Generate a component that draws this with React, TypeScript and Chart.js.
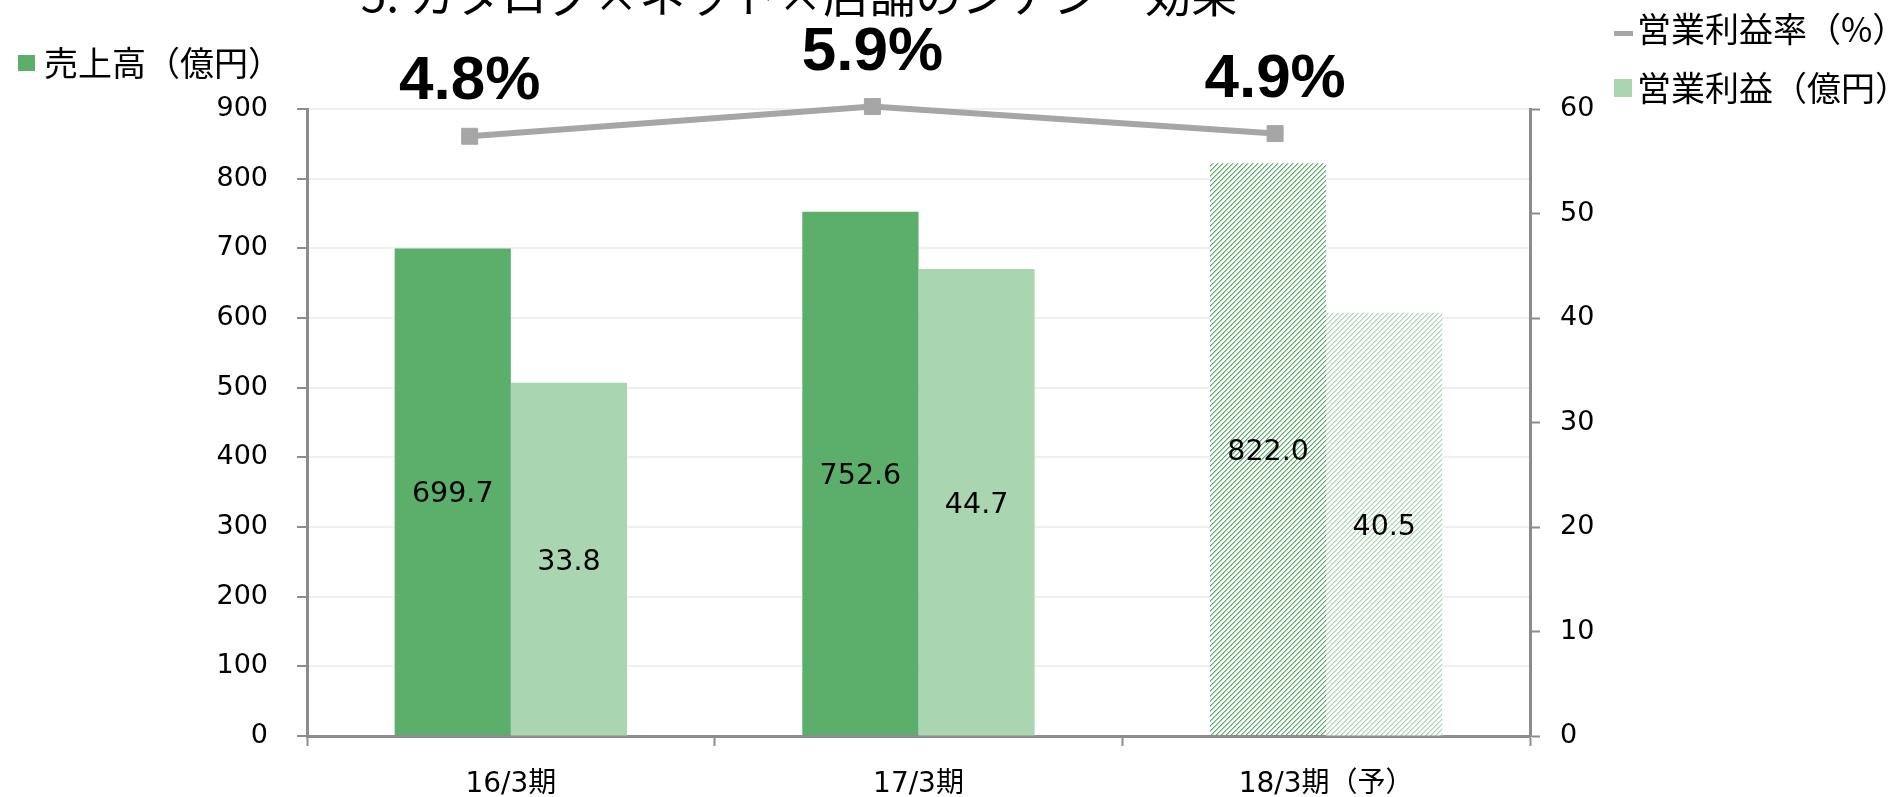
import React, { useEffect, useRef } from 'react';
import { Chart, registerables } from 'chart.js';

Chart.register(...registerables);

// ---- data ----
const categories = ['16/3期', '17/3期', '18/3期（予）'];
const salesValues = [699.7, 752.6, 822.0];
const profitValues = [33.8, 44.7, 40.5];
const marginRates = [4.8, 5.9, 4.9];
const forecastFlags = [false, false, true];
const salesAxisRange = [0, 900, 100];
const profitAxisRange = [0, 60, 10];

const titleText = '5. カタログ×ネット×店舗のシナジー効果';
const salesLabel = '売上高（億円）';
const profitLabel = '営業利益（億円）';
const rateLabel = '営業利益率（%）';

// ---- styles ----
const SALES_COLOR = '#5BAF6A';
const PROFIT_COLOR = '#A9D6B0';
const RATE_COLOR = '#A6A6A6';
const AXIS_COLOR = '#8C8C8C';
const GRID_COLOR = '#EFEFEF';
const FONT = '"DejaVu Sans", "Noto Sans CJK JP", sans-serif';
const JP_FONT = '"Noto Sans CJK JP", sans-serif';
const W = 1899;
const H = 797;
const PAD = { left: 307, right: 369, top: 109, bottom: 61 };

function hexToRgb(hex: string): number[] {
  const v = parseInt(hex.slice(1), 16);
  return [(v >> 16) & 255, (v >> 8) & 255, v & 255];
}

function makeHatch(color: string): CanvasPattern | string {
  const n = 5;
  const tile = document.createElement('canvas');
  tile.width = n;
  tile.height = n;
  const c = tile.getContext('2d');
  if (!c) return color;
  const [r, g, b] = hexToRgb(color);
  const mix = (t: number) =>
    `rgb(${Math.round(255 + (r - 255) * t)},${Math.round(255 + (g - 255) * t)},${Math.round(255 + (b - 255) * t)})`;
  c.fillStyle = '#ffffff';
  c.fillRect(0, 0, n, n);
  for (let x = 0; x < n; x++) {
    for (let y = 0; y < n; y++) {
      const k = (x + y) % n;
      if (k === 0) {
        c.fillStyle = mix(1);
        c.fillRect(x, y, 1, 1);
      } else if (k === 1) {
        c.fillStyle = mix(0.55);
        c.fillRect(x, y, 1, 1);
      }
    }
  }
  const p = c.createPattern(tile, 'repeat');
  return p || color;
}

const barLabelPlugin = {
  id: 'barLabels',
  afterDatasetsDraw(chart: any) {
    const ctx = chart.ctx;
    ctx.save();
    ctx.fillStyle = '#000';
    ctx.textAlign = 'center';
    ctx.font = `28.5px ${FONT}`;
    ctx.textBaseline = 'middle';
    [0, 1].forEach((di) => {
      const meta = chart.getDatasetMeta(di);
      meta.data.forEach((el: any, i: number) => {
        const v = chart.data.datasets[di].data[i] as number;
        ctx.fillText(v.toFixed(1), el.x, (el.y + el.base) / 2 + 3);
      });
    });
    ctx.restore();
  },
  afterDraw(chart: any) {
    const ctx = chart.ctx;
    ctx.save();
    // title (cut off at top of picture)
    ctx.fillStyle = '#000';
    ctx.font = `46px ${JP_FONT}`;
    ctx.textAlign = 'center';
    ctx.textBaseline = 'alphabetic';
    ctx.fillText(titleText, 799, 12);

    // legends
    ctx.font = `34px ${JP_FONT}`;
    ctx.textAlign = 'left';
    ctx.textBaseline = 'middle';
    ctx.fillStyle = SALES_COLOR;
    ctx.fillRect(18, 55, 17, 16);
    ctx.fillStyle = '#000';
    ctx.fillText(salesLabel, 44, 63);

    ctx.fillStyle = RATE_COLOR;
    ctx.fillRect(1614, 31, 19, 5);
    ctx.fillStyle = '#000';
    ctx.fillText(rateLabel, 1637, 29);

    ctx.fillStyle = PROFIT_COLOR;
    ctx.fillRect(1614, 79, 18, 18);
    ctx.fillStyle = '#000';
    ctx.fillText(profitLabel, 1637, 88);
    ctx.restore();
  },
};

const rateLabelPlugin = {
  id: 'rateLabels',
  afterDatasetsDraw(chart: any) {
    const ctx = chart.ctx;
    ctx.save();
    ctx.fillStyle = '#000';
    ctx.textAlign = 'center';
    ctx.textBaseline = 'alphabetic';
    ctx.font = `bold 62px "Liberation Sans", sans-serif`;
    const meta = chart.getDatasetMeta(0);
    meta.data.forEach((el: any, i: number) => {
      ctx.fillText(marginRates[i].toFixed(1) + '%', el.x, el.y - 37);
    });
    ctx.restore();
  },
};

export default function App() {
  const barRef = useRef<HTMLCanvasElement | null>(null);
  const lineRef = useRef<HTMLCanvasElement | null>(null);

  useEffect(() => {
    const c1 = barRef.current;
    const c2 = lineRef.current;
    if (!c1 || !c2) return;
    const salesBg = forecastFlags.map((f) => (f ? makeHatch(SALES_COLOR) : SALES_COLOR));
    const profitBg = forecastFlags.map((f) => (f ? makeHatch(PROFIT_COLOR) : PROFIT_COLOR));
    const tickFont = { size: 27, family: FONT };

    const barChart = new Chart(c1, {
      type: 'bar',
      data: {
        labels: categories,
        datasets: [
          {
            label: salesLabel,
            data: salesValues,
            backgroundColor: salesBg as any,
            borderWidth: 0,
            yAxisID: 'y',
            categoryPercentage: 0.57,
            barPercentage: 1,
          },
          {
            label: profitLabel,
            data: profitValues,
            backgroundColor: profitBg as any,
            borderWidth: 0,
            yAxisID: 'y2',
            categoryPercentage: 0.57,
            barPercentage: 1,
          },
        ],
      },
      options: {
        animation: false,
        responsive: false,
        devicePixelRatio: 1,
        layout: { padding: { top: PAD.top, left: 0, right: 0, bottom: 0 } },
        plugins: {
          legend: { display: false },
          tooltip: { enabled: false },
          title: { display: false },
        },
        scales: {
          x: {
            type: 'category',
            offset: true,
            grid: {
              offset: true,
              drawOnChartArea: false,
              drawTicks: true,
              tickLength: 10,
              tickColor: AXIS_COLOR,
              tickWidth: 2,
            },
            border: { color: AXIS_COLOR, width: 3 },
            ticks: { font: { size: 28, family: FONT }, color: '#000', padding: 22, maxRotation: 0 },
            afterFit: (s: any) => {
              s.height = PAD.bottom;
            },
          },
          y: {
            position: 'left',
            min: salesAxisRange[0],
            max: salesAxisRange[1],
            ticks: { stepSize: salesAxisRange[2], font: tickFont, color: '#000', padding: 29 },
            grid: {
              color: GRID_COLOR,
              lineWidth: 2,
              tickColor: AXIS_COLOR,
              tickLength: 10,
              tickWidth: 2,
            },
            border: { color: AXIS_COLOR, width: 3 },
            afterFit: (s: any) => {
              s.width = PAD.left;
            },
          },
          y2: {
            position: 'right',
            min: profitAxisRange[0],
            max: profitAxisRange[1],
            ticks: { stepSize: profitAxisRange[2], font: tickFont, color: '#000', padding: 20 },
            grid: {
              drawOnChartArea: false,
              tickColor: AXIS_COLOR,
              tickLength: 10,
              tickWidth: 2,
            },
            border: { color: AXIS_COLOR, width: 3 },
            afterFit: (s: any) => {
              s.width = PAD.right;
            },
          },
        },
      } as any,
      plugins: [barLabelPlugin],
    });

    // operating-margin line on its own (hidden) secondary axes, overlaid on the bars
    const lineChart = new Chart(c2, {
      type: 'line',
      data: {
        datasets: [
          {
            label: rateLabel,
            data: marginRates.map((r, i) => ({ x: i, y: r })),
            borderColor: RATE_COLOR,
            backgroundColor: RATE_COLOR,
            borderWidth: 6,
            pointStyle: 'rect',
            pointRadius: 11.3,
            pointBackgroundColor: RATE_COLOR,
            pointBorderColor: RATE_COLOR,
            pointBorderWidth: 1,
            tension: 0,
            clip: false,
          } as any,
        ],
      },
      options: {
        animation: false,
        responsive: false,
        devicePixelRatio: 1,
        layout: { padding: { ...PAD } },
        plugins: { legend: { display: false }, tooltip: { enabled: false } },
        scales: {
          x: { type: 'linear', display: false, min: -0.404, max: 2.633 },
          y: { type: 'linear', display: false, min: -17.41, max: 5.81 },
        },
      } as any,
      plugins: [rateLabelPlugin],
    });

    return () => {
      lineChart.destroy();
      barChart.destroy();
    };
  }, []);

  return (
    <div style={{ position: 'absolute', left: 0, top: 0, width: W, height: H }}>
      <canvas
        ref={barRef}
        width={W}
        height={H}
        style={{ position: 'absolute', left: 0, top: 0, display: 'block' }}
      />
      <canvas
        ref={lineRef}
        width={W}
        height={H}
        style={{ position: 'absolute', left: 0, top: 0, display: 'block', pointerEvents: 'none' }}
      />
    </div>
  );
}
